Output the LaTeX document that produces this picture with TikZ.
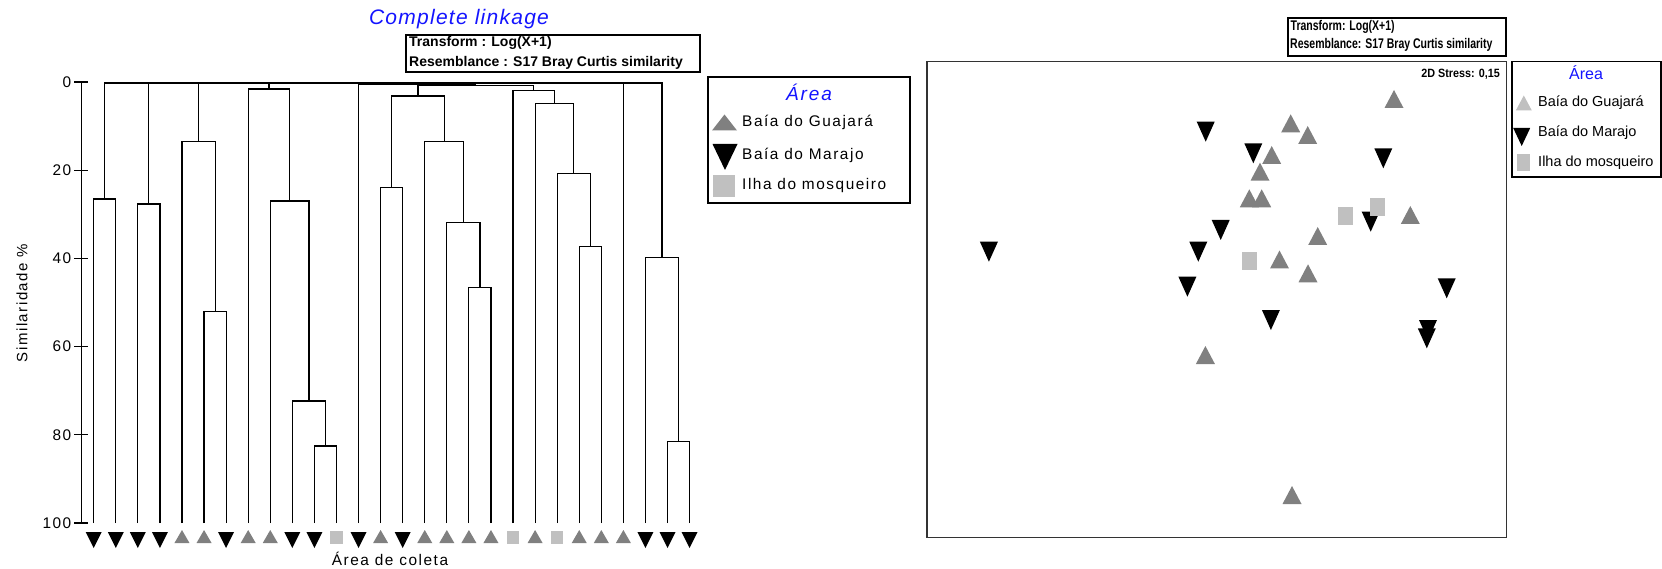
\documentclass[tikz,border=0pt]{standalone}
\usepackage{fontspec}
\setmainfont{Liberation Sans}
\newfontfamily\lsf[LetterSpace=10]{Liberation Sans}
\newfontfamily\lst[LetterSpace=6]{Liberation Sans}
\definecolor{tcol}{RGB}{128,128,128}
\definecolor{scol}{RGB}{192,192,192}
\definecolor{ttl}{RGB}{20,20,255}
\tikzset{
  tup/.pic={\fill (-0.5,0.5) -- (0.5,0.5) -- (0,-0.5) -- cycle;},
  tdn/.pic={\fill (-0.5,-0.5) -- (0.5,-0.5) -- (0,0.5) -- cycle;},
  sqr/.pic={\fill (-0.5,-0.5) rectangle (0.5,0.5);},
  dline/.style={line width=1.2pt},
  boxline/.style={line width=1.3pt},
  axlab/.style={font=\lsf\fontsize{15.4}{18}\selectfont, anchor=east, inner sep=0pt},
  legtxt/.style={font=\lsf\fontsize{15.4}{18}\selectfont, anchor=west, inner sep=0pt},
  rlegtxt/.style={font=\fontsize{14.5}{17}\selectfont, anchor=west, inner sep=0pt},
  infotxt/.style={font=\bfseries\fontsize{14}{16}\selectfont, anchor=west, inner sep=0pt},
}
\begin{document}
\begin{tikzpicture}[x=1pt,y=-1pt]
\useasboundingbox[fill=white] (0,0) rectangle (1662,569);

% ---------------- Dendrogram ----------------
\node[font=\lst\itshape\fontsize{21}{24}\selectfont, text=ttl, inner sep=0pt] (title) at (459,19) {Complete linkage};
\draw[boxline] (406,35) rectangle (700,72);
\node[infotxt] (inf1) at (409,43) {Transform : Log(X+1)};
\node[infotxt] (inf2) at (409,62.5) {Resemblance : S17 Bray Curtis similarity};

% axis
\draw[dline] (81.7,82) -- (81.7,523);
\foreach \v [count=\k from 0] in {0,20,40,60,80,100} {
  \draw[dline] (74,{82+88.2*\k}) -- (88.4,{82+88.2*\k});
  \node[axlab] (ax\k) at (71.5,{82+88.2*\k}) {\v};
}
\node[font=\lsf\fontsize{15}{18}\selectfont, rotate=90, inner sep=0pt] (ylab) at (22,303) {Similaridade \%};
\node[font=\lsf\fontsize{15.4}{18}\selectfont, inner sep=0pt] (xlab) at (390,559) {Área de coleta};

% leaves
\foreach \i in {0,...,27} \coordinate (l\i) at ({93.7+22.07*\i},523);
% merges
\coordinate (m01) at (104.75,199);
\coordinate (m23) at (148.85,204);
\coordinate (m56) at (215.1,311.7);
\coordinate (m4) at (198.55,141.7);
\coordinate (m1011) at (325.45,446);
\coordinate (m9) at (308.9,401);
\coordinate (m8) at (289.6,201);
\coordinate (m7) at (268.9,89);
\coordinate (m1314) at (391.65,187.3);
\coordinate (m1718) at (479.95,287.3);
\coordinate (m16) at (463.4,222.7);
\coordinate (m15) at (444.1,141.7);
\coordinate (mB) at (417.9,96);
\coordinate (m2223) at (590.25,246.7);
\coordinate (m21) at (573.7,173.3);
\coordinate (m20) at (554.4,103.3);
\coordinate (mC) at (533.7,90.7);
\coordinate (mBC) at (475.8,85.3);
\coordinate (m12) at (417.15,84.2);
\coordinate (m2627) at (678.55,441.7);
\coordinate (m25) at (662.0,257.7);
\coordinate (root) at (383.4,83);
\foreach \c/\p in {l0/m01,l1/m01,l2/m23,l3/m23,l5/m56,l6/m56,l4/m4,m56/m4,
  l10/m1011,l11/m1011,l9/m9,m1011/m9,l8/m8,m9/m8,l7/m7,m8/m7,
  l13/m1314,l14/m1314,l17/m1718,l18/m1718,l16/m16,m1718/m16,l15/m15,m16/m15,
  m1314/mB,m15/mB,l22/m2223,l23/m2223,l21/m21,m2223/m21,l20/m20,m21/m20,
  l19/mC,m20/mC,mB/mBC,mC/mBC,l12/m12,mBC/m12,l26/m2627,l27/m2627,l25/m25,m2627/m25,
  m01/root,m23/root,m4/root,m7/root,m12/root,l24/root,m25/root}
  \draw[dline] (\c) |- (\p);

% leaf symbols
\foreach \k in {0,1,2,3,6,9,10,12,14,25,26,27}
  \pic[fill=black,xscale=16,yscale=16] at ({93.7+22.07*\k},540) {tdn};
\foreach \k in {4,5,7,8,13,15,16,17,18,20,22,23,24}
  \pic[fill=tcol,xscale=15,yscale=13] at ({93.7+22.07*\k},536.5) {tup};
\foreach \k in {11,19,21}
  \pic[fill=scol,xscale=12.5,yscale=13] at ({93.7+22.07*\k},537.5) {sqr};

% left legend
\draw[boxline] (708,77) rectangle (910,203);
\node[font=\lsf\itshape\fontsize{19}{22}\selectfont, text=ttl, inner sep=0pt] (lgt) at (809,92) {Área};
\pic[fill=tcol,xscale=25,yscale=16] at (724.5,122.5) {tup};
\node[legtxt] (lg1) at (742,122.5) {Baía do Guajará};
\pic[fill=black,xscale=25,yscale=26] at (725,157) {tdn};
\node[legtxt] (lg2) at (742,155) {Baía do Marajo};
\pic[fill=scol,xscale=22,yscale=22] at (724,186) {sqr};
\node[legtxt] (lg3) at (742,186) {Ilha do mosqueiro};

% ---------------- MDS ----------------
\draw[boxline] (1288,18) rectangle (1506,56);
\node[infotxt] (rinf1) at (1290.5,26.5) {\scalebox{0.75}[1]{Transform: Log(X+1)}};
\node[infotxt] (rinf2) at (1290,45) {\scalebox{0.75}[1]{Resemblance: S17 Bray Curtis similarity}};

\draw[line width=1.9pt, black!80] (927,61.5) rectangle (1506.5,537.5);
\node[font=\bfseries\fontsize{12}{14}\selectfont, anchor=east, inner sep=0pt] (stress) at (1500,74) {\scalebox{0.9}[1]{2D Stress: 0,15}};

\foreach \x/\y in {1205.7/131.7,1253.3/153.3,1383.3/158.3,1370.7/221.7,1220.7/230,1198.3/251.7,
  988.9/251.7,1187.4/286.7,1446.7/288.3,1270.9/320,1428/330,1426.8/338.3}
  \pic[fill=black,xscale=18,yscale=20] at (\x,\y) {tdn};
\foreach \x/\y in {1394/99,1290.7/123.3,1307.7/135,1271.7/155,1260/171.7,1249.3/198.3,1261.7/198.3,
  1410.3/215,1317.7/236,1279.5/259.5,1308/273.3,1205.4/355,1292/495}
  \pic[fill=tcol,xscale=19,yscale=18] at (\x,\y) {tup};
\foreach \x/\y in {1345/216,1377.3/206.7,1249.2/261}
  \pic[fill=scol,xscale=15,yscale=18] at (\x,\y) {sqr};

% right legend
\draw[line width=1.5pt] (1512,61.5) rectangle (1661,177);
\node[font=\fontsize{16}{19}\selectfont, text=ttl, inner sep=0pt] (rlgt) at (1586,72.5) {Área};
\pic[fill=scol,xscale=16,yscale=15] at (1523.8,103) {tup};
\node[rlegtxt] (rlg1) at (1538,103) {Baía do Guajará};
\pic[fill=black,xscale=17,yscale=18] at (1521.7,137) {tdn};
\node[rlegtxt] (rlg2) at (1538,133) {Baía do Marajo};
\pic[fill=scol,xscale=13,yscale=17] at (1523.3,163) {sqr};
\node[rlegtxt] (rlg3) at (1538,163) {Ilha do mosqueiro};
\end{tikzpicture}
\end{document}
